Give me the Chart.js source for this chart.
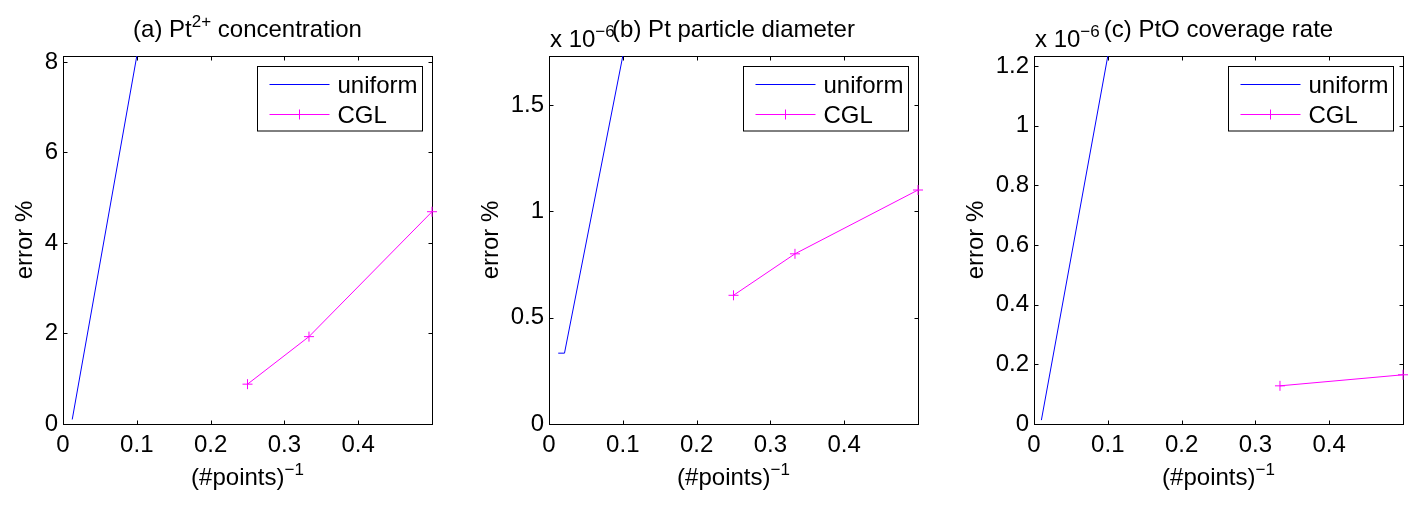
<!DOCTYPE html>
<html>
<head>
<meta charset="utf-8">
<script src="https://cdn.jsdelivr.net/npm/chart.js@4.4.1/dist/chart.umd.min.js"></script>
<style>
  body { margin: 0; background: #fff; width: 1421px; height: 505px; position: relative; overflow: hidden; }
  canvas { position: absolute; top: 0; }
</style>
</head>
<body>
<canvas id="panelA" width="460" height="505" style="left:0px"></canvas>
<canvas id="panelB" width="460" height="505" style="left:476px"></canvas>
<canvas id="panelC" width="460" height="505" style="left:961px"></canvas>
<script>
// shared
const xTicks = [0, 0.1, 0.2, 0.3, 0.4];
const seriesNames = ['uniform', 'CGL'];
const xTitle = [['(#points)'], ['\u22121', true]];
const yTitle = 'error %';

// (a) Pt2+ concentration
const titleA = [['(a) Pt'], ['2+', true], [' concentration']];
const uniformXA = [0.0125, 0.1];
const uniformYA = [0.1, 8.13];
const cglXA = [0.25, 0.3333, 0.5];
const cglYA = [0.88, 1.93, 4.69];
const yTicksA = [0, 2, 4, 6, 8];
const yMaxA = 8.13;

// (b) Pt particle diameter  (x 10^-6)
const titleB = [['(b) Pt particle diameter']];
const uniformXB = [0.0125, 0.021, 0.1];
const uniformYB = [0.333, 0.333, 1.73];
const cglXB = [0.25, 0.3333, 0.5];
const cglYB = [0.605, 0.80, 1.10];
const yTicksB = [0, 0.5, 1, 1.5];
const yMaxB = 1.73;

// (c) PtO coverage rate  (x 10^-6)
const titleC = [['(c) PtO coverage rate']];
const uniformXC = [0.01, 0.1];
const uniformYC = [0.013, 1.234];
const cglXC = [0.3333, 0.5];
const cglYC = [0.128, 0.165];
const yTicksC = [0, 0.2, 0.4, 0.6, 0.8, 1, 1.2];
const yMaxC = 1.234;

const FONT = '"Liberation Sans", Arial, Helvetica, sans-serif';
const SIZE = 24, SUP = 17, RAISE = 10;
Chart.defaults.font.family = FONT;
Chart.defaults.font.size = SIZE;
Chart.defaults.color = '#000';

function zip(xs, ys) { return xs.map((x, i) => ({ x: x, y: ys[i] })); }

function richWidth(ctx, segs) {
  let w = 0;
  for (const [t, sup] of segs) {
    ctx.font = (sup ? SUP : SIZE) + 'px ' + FONT;
    w += ctx.measureText(t).width;
  }
  return w;
}
function drawRich(ctx, segs, x, y, align) {
  let cx = align === 'center' ? x - richWidth(ctx, segs) / 2 : x;
  ctx.textAlign = 'left';
  ctx.textBaseline = 'alphabetic';
  for (const [t, sup] of segs) {
    ctx.font = (sup ? SUP : SIZE) + 'px ' + FONT;
    ctx.fillText(t, cx, sup ? y - RAISE : y);
    cx += ctx.measureText(t).width;
  }
}

// matlab style box, inward ticks, legend inside and the texts
const matlabLook = {
  id: 'matlabLook',
  beforeDatasetsDraw(chart) {
    const { ctx, chartArea: ca, scales } = chart;
    const L = ca.left + 0.5, R = Math.round(ca.right) + 0.5, T = ca.top + 0.5, B = Math.round(ca.bottom) + 0.5;
    ctx.save();
    ctx.strokeStyle = '#000';
    ctx.lineWidth = 1;
    ctx.strokeRect(L, T, R - L, B - T);
    ctx.beginPath();
    for (const t of scales.x.ticks) {
      const px = Math.round(scales.x.getPixelForValue(t.value)) + 0.5;
      ctx.moveTo(px, B); ctx.lineTo(px, B - 4);
      ctx.moveTo(px, T); ctx.lineTo(px, T + 4);
    }
    for (const t of scales.y.ticks) {
      const py = Math.round(scales.y.getPixelForValue(t.value)) + 0.5;
      ctx.moveTo(L, py); ctx.lineTo(L + 4, py);
      ctx.moveTo(R, py); ctx.lineTo(R - 4, py);
    }
    ctx.stroke();
    ctx.restore();
  },
  afterDraw(chart, args, opts) {
    const { ctx, chartArea: ca, scales } = chart;
    const midX = (ca.left + ca.right) / 2;
    ctx.save();
    ctx.fillStyle = '#000';
    // title and exponent
    drawRich(ctx, opts.title, midX, 37, 'center');
    if (opts.exponent) drawRich(ctx, [['x 10'], ['\u22126', true]], ca.left + 1, 46.5, 'left');
    // x title
    drawRich(ctx, xTitle, midX, 485, 'center');
    // y title, left of the widest tick label
    ctx.font = SIZE + 'px ' + FONT;
    let widest = 0;
    for (const t of scales.y.ticks) widest = Math.max(widest, ctx.measureText(String(t.value)).width);
    const bx = ca.left - 5 - widest - 13;
    ctx.translate(bx, (ca.top + ca.bottom) / 2);
    ctx.rotate(-Math.PI / 2);
    ctx.textAlign = 'center';
    ctx.textBaseline = 'alphabetic';
    ctx.fillText(yTitle, 0, 0);
    ctx.setTransform(1, 0, 0, 1, 0, 0);
    // legend
    const w = 165, h = 64.5;
    const x0 = Math.round(ca.right - 10 - w) + 0.5, y0 = ca.top + 10.5;
    ctx.fillStyle = '#fff';
    ctx.fillRect(x0, y0, w, h);
    ctx.strokeStyle = '#000';
    ctx.lineWidth = 1;
    ctx.strokeRect(x0, y0, w, h);
    chart.data.datasets.forEach((ds, i) => {
      const ry = Math.round(y0 + 17.5 + 30 * i) + 0.5;
      ctx.strokeStyle = ds.borderColor;
      ctx.beginPath();
      ctx.moveTo(x0 + 12, ry); ctx.lineTo(x0 + 72, ry);
      if (ds.pointRadius > 0) {
        const mx = x0 + 42, r = ds.pointRadius;
        ctx.moveTo(mx, ry - r); ctx.lineTo(mx, ry + r);
      }
      ctx.stroke();
      ctx.fillStyle = '#000';
      ctx.font = SIZE + 'px ' + FONT;
      ctx.textAlign = 'left';
      ctx.textBaseline = 'alphabetic';
      ctx.fillText(ds.label, x0 + 80, ry + 8);
    });
    ctx.restore();
  }
};

function makePanel(id, yWidth, p) {
  return new Chart(document.getElementById(id), {
    type: 'scatter',
    data: {
      datasets: [{
        label: seriesNames[0],
        data: zip(p.ux, p.uy),
        showLine: true,
        borderColor: '#0000ff',
        borderWidth: 1,
        pointRadius: 0
      }, {
        label: seriesNames[1],
        data: zip(p.cx, p.cy),
        showLine: true,
        borderColor: '#ff00ff',
        borderWidth: 1,
        pointStyle: 'cross',
        pointRadius: 5,
        pointBorderWidth: 1,
        pointBorderColor: '#ff00ff',
        clip: false
      }]
    },
    options: {
      responsive: false,
      animation: false,
      events: [],
      layout: { padding: { left: 0, top: 56, right: 460 - yWidth - 369, bottom: 0 } },
      plugins: {
        legend: { display: false },
        tooltip: { enabled: false },
        matlabLook: { title: p.title, exponent: p.exponent }
      },
      scales: {
        x: {
          type: 'linear', min: 0, max: 0.5,
          afterBuildTicks: s => { s.ticks = xTicks.map(v => ({ value: v })); },
          afterFit: s => { s.height = 81; s.paddingLeft = 0; s.paddingRight = 0; },
          grid: { display: false, drawTicks: false },
          border: { display: false },
          ticks: { padding: 7, maxRotation: 0, autoSkip: false, callback: v => String(v) }
        },
        y: {
          type: 'linear', min: 0, max: p.yMax,
          afterBuildTicks: s => { s.ticks = p.yTicks.map(v => ({ value: v })); },
          afterFit: s => { s.width = yWidth; s.paddingTop = 0; s.paddingBottom = 0; },
          grid: { display: false, drawTicks: false },
          border: { display: false },
          ticks: { padding: 5, autoSkip: false, callback: v => String(v) }
        }
      }
    },
    plugins: [matlabLook]
  });
}

makePanel('panelA', 63, { title: titleA, exponent: false, ux: uniformXA, uy: uniformYA, cx: cglXA, cy: cglYA, yTicks: yTicksA, yMax: yMaxA });
makePanel('panelB', 73, { title: titleB, exponent: true, ux: uniformXB, uy: uniformYB, cx: cglXB, cy: cglYB, yTicks: yTicksB, yMax: yMaxB });
makePanel('panelC', 73, { title: titleC, exponent: true, ux: uniformXC, uy: uniformYC, cx: cglXC, cy: cglYC, yTicks: yTicksC, yMax: yMaxC });
</script>
</body>
</html>
